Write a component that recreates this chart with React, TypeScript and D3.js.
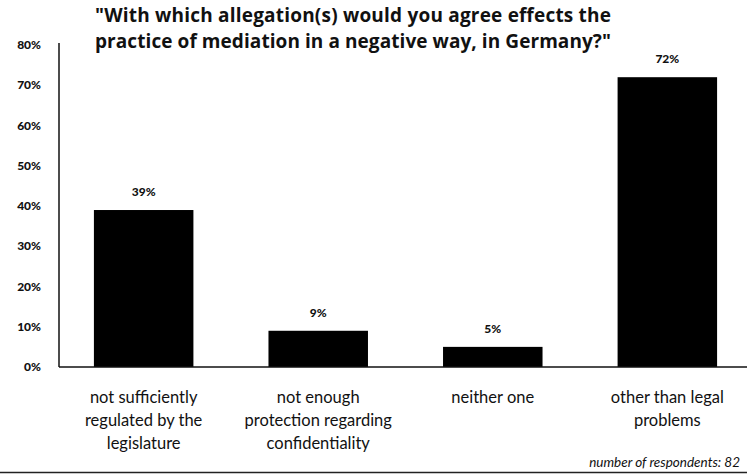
import React from "react";
import * as d3 from "d3";

const categories: string[][] = [
  ["not sufficiently", "regulated by the", "legislature"],
  ["not enough", "protection regarding", "confidentiality"],
  ["neither one"],
  ["other than legal", "problems"],
];
const values: number[] = [39, 9, 5, 72];
const valueLabels: string[] = ["39%", "9%", "5%", "72%"];
const yTicks: number[] = [0, 10, 20, 30, 40, 50, 60, 70, 80];
const titleLines: string[] = [
  "\"With which allegation(s) would you agree effects the",
  "practice of mediation in a negative way, in Germany?\"",
];
const footnote = "number of respondents: 82";

const W = 747;
const H = 474;
const left = 59;
const right = 752;
const top = 45;
const bottom = 367;
const font = "Lato, 'Open Sans', sans-serif";
const titleFont = "'Open Sans', Lato, sans-serif";

export default function App() {
  const x = d3
    .scaleBand<number>()
    .domain(values.map((_, i) => i))
    .range([left, right])
    .paddingInner(0.43)
    .paddingOuter(0.2);
  const y = d3.scaleLinear().domain([0, 80]).range([bottom, top]);

  return (
    <svg
      width={W}
      height={H}
      style={{ position: "absolute", left: 0, top: 0, background: "#fff" }}
    >
      <g fontFamily={titleFont} fontWeight="bold" fontSize={19} fill="#111">
        {titleLines.map((t, i) => (
          <text key={i} x={95} y={22 + i * 26} textLength={516} lengthAdjust="spacing">
            {t}
          </text>
        ))}
      </g>
      <g fontFamily={font} fontWeight="900" fontSize={12} fill="#111">
        {yTicks.map((t) => (
          <text key={t} x={41} y={y(t)} dy="0.35em" textAnchor="end">
            {t}%
          </text>
        ))}
      </g>
      {values.map((v, i) => (
        <rect
          key={i}
          x={x(i)}
          y={y(v)}
          width={x.bandwidth()}
          height={y(0) - y(v)}
          fill="#000"
        />
      ))}
      <g fontFamily={font} fontWeight="900" fontSize={12} fill="#111">
        {values.map((v, i) => (
          <text
            key={i}
            x={(x(i) as number) + x.bandwidth() / 2}
            y={y(v) - 14}
            textAnchor="middle"
          >
            {valueLabels[i]}
          </text>
        ))}
      </g>
      <line x1={left} x2={left} y1={top - 2} y2={bottom} stroke="#111" strokeWidth={1.5} />
      <line x1={left} x2={W} y1={bottom} y2={bottom} stroke="#111" strokeWidth={1.5} />
      <g fontFamily={font} fontSize={16.5} fill="#111">
        {categories.map((lines, i) =>
          lines.map((l, j) => (
            <text
              key={i + "-" + j}
              x={(x(i) as number) + x.bandwidth() / 2}
              y={403 + j * 23}
              textAnchor="middle"
            >
              {l}
            </text>
          ))
        )}
      </g>
      <text
        x={740}
        y={467}
        textAnchor="end"
        fontFamily={font}
        fontStyle="italic"
        fontSize={13.5}
        fill="#111"
      >
        {footnote}
      </text>
      <line x1={0} x2={W} y1={472.5} y2={472.5} stroke="#222" strokeWidth={1.5} />
    </svg>
  );
}
